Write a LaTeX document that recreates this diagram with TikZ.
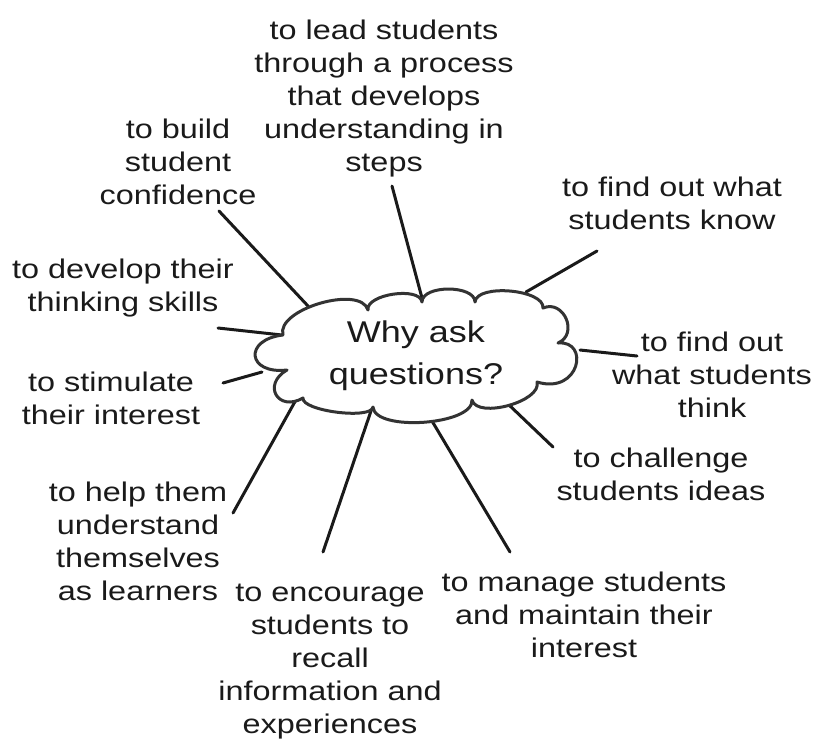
\documentclass[tikz,border=0pt]{standalone}
\usepackage{fontspec}
\setmainfont[FakeStretch=1.2]{Liberation Sans}
\definecolor{ink}{HTML}{1A1A1A}
\definecolor{cloudgray}{HTML}{333333}
\begin{document}
\begin{tikzpicture}[x=1pt,y=-1pt]
\tikzset{
  lbl/.style={align=center, font=\fontsize{27}{33}\selectfont, text=ink, inner sep=0pt},
  mainlbl/.style={align=center, font=\fontsize{30}{42}\selectfont, text=ink, inner sep=0pt},
  spoke/.style={line width=3pt, draw=ink, line cap=round},
  cloudline/.style={line width=3pt, draw=cloudgray, line join=round, fill=white}
}
\useasboundingbox (0,0) rectangle (813,740);

% labels
\node[lbl] (lead) at (384,99) {to lead students\\through a process\\that develops\\understanding in\\steps};
\node[lbl] (build) at (178,162) {to build\\student\\confidence};
\node[lbl] (know) at (672,203) {to find out what\\students know};
\node[lbl] (develop) at (123,288) {to develop their\\thinking skills};
\node[lbl] (think) at (712,375) {to find out\\what students\\think};
\node[lbl] (stim) at (111,398) {to stimulate\\their interest};
\node[lbl] (chal) at (661,474) {to challenge\\students ideas};
\node[lbl] (help) at (138,541) {to help them\\understand\\themselves\\as learners};
\node[lbl] (enc) at (330,662) {to encourage\\students to\\recall\\information and\\experiences};
\node[lbl] (manage) at (584,615) {to manage students\\and maintain their\\interest};

% connector end points
\coordinate (build-c) at (308,306);  \coordinate (build-e) at (219,211);
\coordinate (lead-c) at (422,298);   \coordinate (lead-e) at (392,186);
\coordinate (know-c) at (526,292);   \coordinate (know-e) at (597,251);
\coordinate (think-c) at (580,350);  \coordinate (think-e) at (637,356);
\coordinate (develop-c) at (282,335); \coordinate (develop-e) at (218,328);
\coordinate (stim-c) at (262,372);   \coordinate (stim-e) at (223,383);
\coordinate (chal-c) at (508,404);   \coordinate (chal-e) at (553,447);
\coordinate (help-c) at (297,398);   \coordinate (help-e) at (233,513);
\coordinate (enc-c) at (372,408);    \coordinate (enc-e) at (323,552);
\coordinate (manage-c) at (432,421); \coordinate (manage-e) at (510,552);

\foreach \n in {build,lead,know,think,develop,stim,chal,help,enc,manage}
  \draw[spoke] (\n-c) -- (\n-e);

% cloud
\draw[cloudline] (283,335) .. controls (275.5,309.4) and (360.5,284.4) .. (368,310)
 .. controls (365.7,294.2) and (419.7,286.2) .. (422,302)
 .. controls (422,284.7) and (475,284.7) .. (475,302)
 .. controls (476.6,283.4) and (544.6,289.4) .. (543,308)
 .. controls (563.9,299.1) and (578.9,334.1) .. (558,343)
 .. controls (590,340) and (580,395) .. (537,382)
 .. controls (542.3,401.3) and (477.3,419.3) .. (472,400)
 .. controls (473.8,425) and (374.8,432) .. (373,407)
 .. controls (371.3,419.9) and (301.3,410.9) .. (303,398)
 .. controls (277.8,412.4) and (261.8,384.4) .. (287,370)
 .. controls (247.2,374.6) and (243.2,339.6) .. (283,335) -- cycle;

\node[mainlbl] (why) at (416,356) {Why ask\\questions?};
\end{tikzpicture}
\end{document}
